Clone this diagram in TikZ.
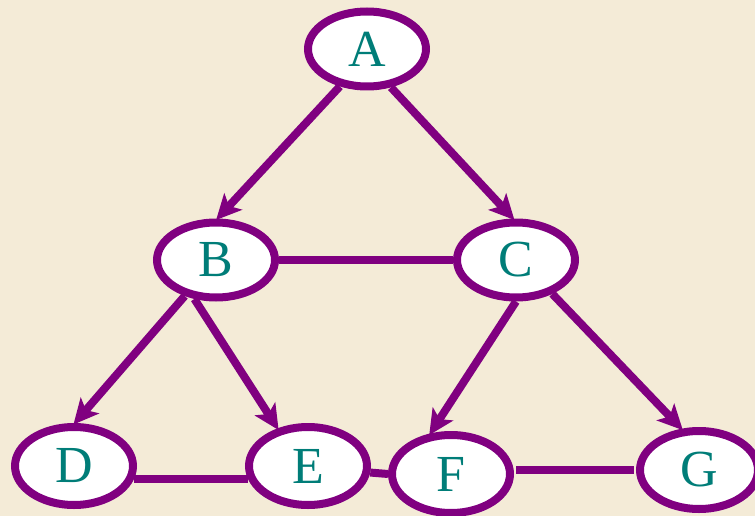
\documentclass[tikz,border=0pt]{standalone}
\usepackage{fontspec}
\setmainfont{Liberation Serif}
\usetikzlibrary{arrows.meta,shapes.geometric}

\definecolor{paper}{RGB}{244,235,215}
\definecolor{edgepurple}{RGB}{128,0,128}
\definecolor{labelteal}{RGB}{0,125,120}

\tikzset{
  vertex/.style={ellipse, draw=edgepurple, line width=8pt, fill=white,
    minimum width=118pt, minimum height=75pt, inner sep=0pt,
    text=labelteal, font=\fontsize{52}{52}\selectfont},
  lowvertex/.style={vertex, minimum height=78pt},
  link/.style={draw=edgepurple, line width=8pt},
  arc/.style={link, -{Stealth[length=25pt,width=24pt,inset=6pt]}, shorten >=-2pt}
}

\begin{document}
\begin{tikzpicture}[x=1pt,y=-1pt]
  % canvas
  \fill[paper] (0,0) rectangle (755,516);
  \useasboundingbox (0,0) rectangle (755,516);

  % vertices
  \node[vertex] (A) at (367,49)  {A};
  \node[vertex] (B) at (216,260) {B};
  \node[vertex] (C) at (516,260) {C};
  \node[lowvertex] (D) at (74,466)  {D};
  \node[lowvertex] (E) at (308,466) {E};
  \node[lowvertex] (F) at (451,474) {F};
  \node[lowvertex] (G) at (699,470) {G};

  % directed edges
  \draw[arc] (A.234) -- (B.88);
  \draw[arc] (A.302) -- (C.94);
  \draw[arc] (B.229) -- (D.89);
  \draw[arc] (B.241) -- (E.129);
  \draw[arc] (C.270) -- (F.117);
  \draw[arc] (C.-43)  -- (G.113);

  % undirected edges
  \draw[link] (B.east) -- (C.west);
  \draw[link] (D.-12) -- (E.-168);
  \draw[link] (E.-6) -- (F.west);
  \draw[link, shorten <=2pt, shorten >=2pt] (G.west -| F.east) -- (G.west);
\end{tikzpicture}
\end{document}
